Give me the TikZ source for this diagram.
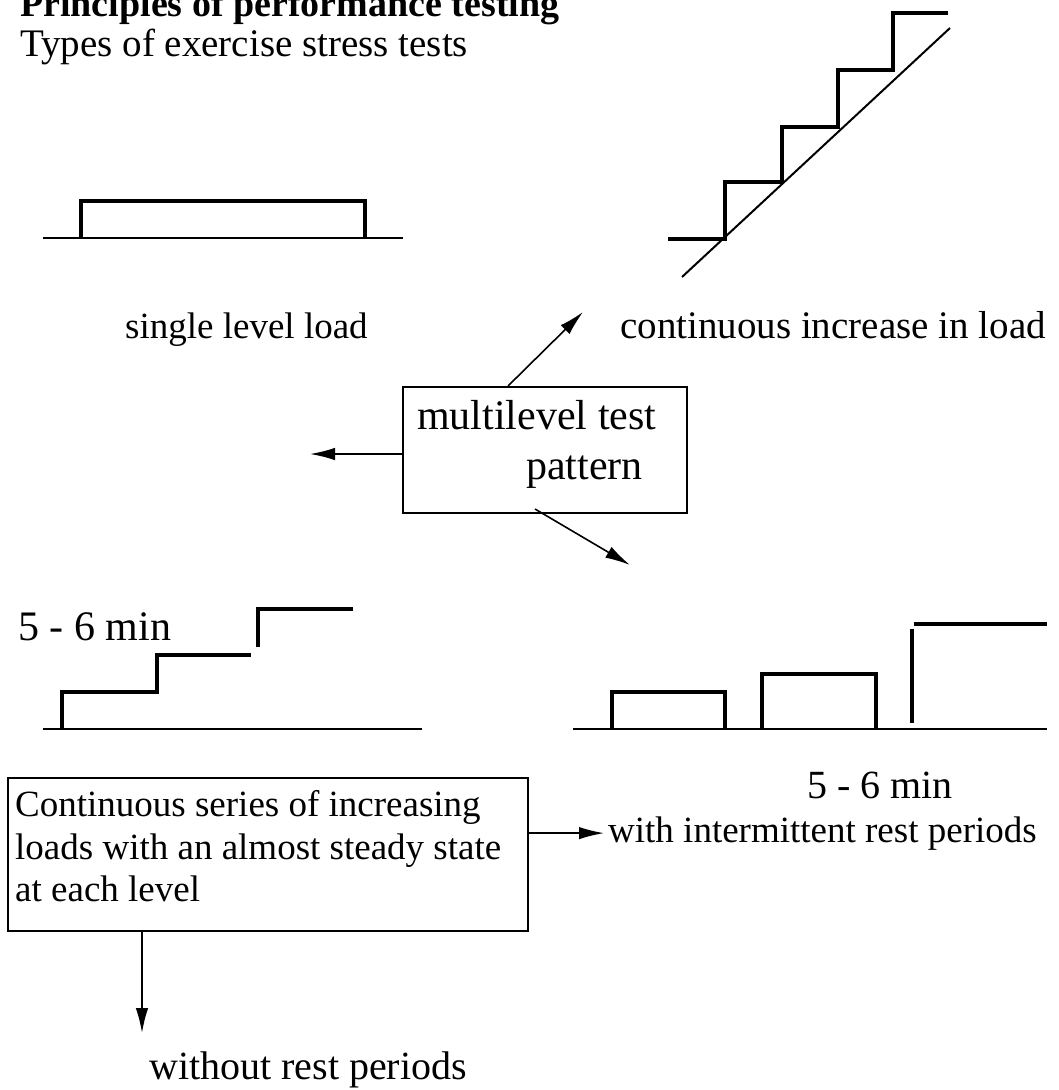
\documentclass[tikz,border=0pt]{standalone}
\usepackage{fontspec}
\setmainfont{Liberation Serif}
\usetikzlibrary{arrows.meta}
\begin{document}
\begin{tikzpicture}[x=1pt,y=-1pt,
  axisline/.style={line width=2pt},
  loadline/.style={line width=4.5pt},
  boxed/.style={draw,line width=2pt,inner sep=0pt},
  arr/.style={line width=1.6pt,-{Latex[length=25pt,width=12.5pt]}},
  txt/.style={anchor=base west,inner sep=0pt,font=\fontsize{37}{43}\selectfont}]
\useasboundingbox (0,0) rectangle (1058,1090);
% titles
\node[txt,font=\bfseries\fontsize{38}{44}\selectfont] (title) at (20,16) {Principles of performance testing};
\node[txt,font=\fontsize{39}{46}\selectfont] (sub) at (20,56) {Types of exercise stress tests};
% single level load
\draw[axisline] (43,238) -- (403,238);
\draw[loadline] (81,238) -- (81,201) -- (365,201) -- (365,238);
\node[txt] (sll) at (125,338) {single level load};
% continuous increase
\draw[axisline] (682,277) -- (950,28);
\draw[loadline] (668,239) -- (725,239) -- (725,182) -- (782,182) -- (782,127) -- (838,127) -- (838,70) -- (893,70) -- (893,13) -- (948,13);
\node[txt,font=\fontsize{39}{45}\selectfont] (cil) at (620,338) {continuous increase in load};
% multilevel box
\node[boxed,minimum width=284pt,minimum height=126pt] (ml) at (545,450) {};
\node[txt,font=\fontsize{42}{50}\selectfont] (ml1) at (417,429) {multilevel test};
\node[txt,font=\fontsize{42}{50}\selectfont] (ml2) at (526,479) {pattern};
\coordinate (upend) at (583,312);
\coordinate (leftend) at (310,454);
\coordinate (downend) at (630,565);
\draw[arr] ([xshift=106pt]ml.north west) -- (upend);
\draw[arr] ([yshift=-4pt]ml.west) -- (leftend);
\draw[arr] ([xshift=133pt,yshift=5pt]ml.south west) -- (downend);
% stepwise without rest
\node[txt,font=\fontsize{42}{50}\selectfont] (t56a) at (18,640) {5 - 6 min};
\draw[axisline] (43,729) -- (422,729);
\draw[loadline] (62,729) -- (62,692) -- (157,692) -- (157,655) -- (251,655);
\draw[loadline] (258,647) -- (258,609) -- (353,609);
% intermittent
\draw[axisline] (573,729) -- (1047,729);
\draw[loadline] (612,729) -- (612,692) -- (725,692) -- (725,729);
\draw[loadline] (762,729) -- (762,674) -- (876,674) -- (876,729);
\draw[loadline] (912,723) -- (912,629);
\draw[loadline] (914,624) -- (1047,624);
\node[txt,font=\fontsize{40}{48}\selectfont] (t56b) at (807,798) {5 - 6 min};
\node[txt] (wirp) at (608,842) {with intermittent rest periods};
% continuous series box
\node[boxed,minimum width=520pt,minimum height=153pt] (cs) at (268,854.5) {};
\node[txt] (cs1) at (15,816) {Continuous series of increasing};
\node[txt] (cs2) at (15,859) {loads with an almost steady state};
\node[txt] (cs3) at (15,901) {at each level};
\draw[arr,shorten >=4pt] (cs.east |- wirp.west) -- (wirp.west);
\coordinate (dend) at (142,1033);
\node[txt,font=\fontsize{40}{48}\selectfont] (wrp) at (149,1079) {without rest periods};
\draw[arr] (cs.south -| dend) -- (dend);
\end{tikzpicture}
\end{document}
